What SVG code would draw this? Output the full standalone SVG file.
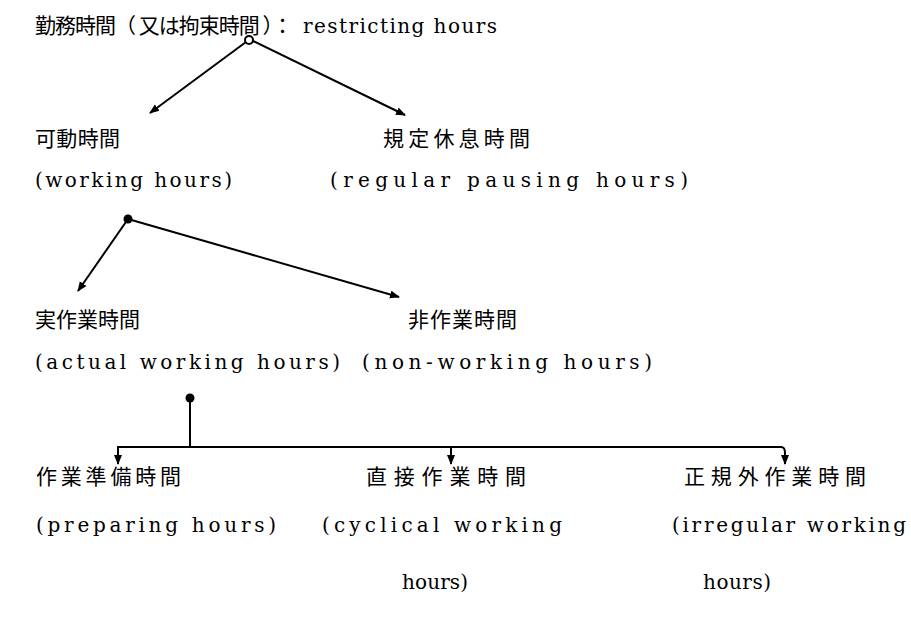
<svg xmlns="http://www.w3.org/2000/svg" width="911" height="619" viewBox="0 0 911 619">
<defs>
<marker id="ah" viewBox="0 0 10 10" refX="9" refY="5" markerWidth="10" markerHeight="10" markerUnits="userSpaceOnUse" orient="auto">
<path d="M0,1 L10,5 L0,9 Z" fill="#000"/>
</marker>
<style>
.jp{font-family:"Noto Sans CJK JP","Noto Sans CJK SC",sans-serif;font-size:21px;fill:#000}
.en{font-family:"DejaVu Serif","Liberation Serif",serif;font-size:20px;fill:#000}
.ln{stroke:#000;stroke-width:2;fill:none}
</style>
</defs>
<rect width="911" height="619" fill="#fff"/>
<g id="root">
<text class="jp" x="35" y="33" textLength="258" lengthAdjust="spacing">勤務時間（ 又は拘束時間 ）：</text>
<text class="en" x="303" y="33" textLength="194" lengthAdjust="spacing">restricting hours</text>
</g>
<g id="kado">
<text class="jp" x="35" y="146" textLength="85" lengthAdjust="spacing">可動時間</text>
<text class="en" x="35" y="187" textLength="197" lengthAdjust="spacing">(working hours)</text>
</g>
<g id="kitei">
<text class="jp" x="383" y="146" textLength="147" lengthAdjust="spacing">規定休息時間</text>
<text class="en" x="330" y="187" textLength="358" lengthAdjust="spacing">(regular pausing hours)</text>
</g>
<g id="jitsu">
<text class="jp" x="35" y="327" textLength="105" lengthAdjust="spacing">実作業時間</text>
<text class="en" x="35" y="369" textLength="305" lengthAdjust="spacing">(actual working hours)</text>
</g>
<g id="hi">
<text class="jp" x="408" y="327" textLength="109" lengthAdjust="spacing">非作業時間</text>
<text class="en" x="362" y="369" textLength="290" lengthAdjust="spacing">(non-working hours)</text>
</g>
<g id="junbi">
<text class="jp" x="36" y="484" textLength="145" lengthAdjust="spacing">作業準備時間</text>
<text class="en" x="36" y="532" textLength="240" lengthAdjust="spacing">(preparing hours)</text>
</g>
<g id="chokusetsu">
<text class="jp" x="366" y="484" textLength="160" lengthAdjust="spacing">直接作業時間</text>
<text class="en" x="322" y="532" textLength="240" lengthAdjust="spacing">(cyclical working</text>
<text class="en" x="402" y="589" textLength="66" lengthAdjust="spacing">hours)</text>
</g>
<g id="seikigai">
<text class="jp" x="684" y="484" textLength="182" lengthAdjust="spacing">正規外作業時間</text>
<text class="en" x="672" y="532" textLength="234" lengthAdjust="spacing">(irregular working</text>
<text class="en" x="703" y="589" textLength="68" lengthAdjust="spacing">hours)</text>
</g>
<g id="connectors">
<circle cx="249" cy="40" r="4" fill="#fff" stroke="#000" stroke-width="2"/>
<line class="ln" x1="246" y1="42" x2="150" y2="113" marker-end="url(#ah)"/>
<line class="ln" x1="253" y1="41" x2="405" y2="115" marker-end="url(#ah)"/>
<circle cx="128" cy="219" r="4.5" fill="#000"/>
<line class="ln" x1="128" y1="219" x2="78" y2="291" marker-end="url(#ah)"/>
<line class="ln" x1="128" y1="219" x2="399" y2="297" marker-end="url(#ah)"/>
<circle cx="190" cy="398" r="4.5" fill="#000"/>
<line class="ln" x1="190" y1="398" x2="190" y2="447"/>
<path class="ln" d="M118,447 H782"/>
<line class="ln" x1="118" y1="446" x2="118" y2="464" marker-end="url(#ah)"/>
<line class="ln" x1="451" y1="446" x2="451" y2="464" marker-end="url(#ah)"/>
<path class="ln" d="M781,447 Q785,447 785,453 L785,464" marker-end="url(#ah)"/>
</g>
</svg>
